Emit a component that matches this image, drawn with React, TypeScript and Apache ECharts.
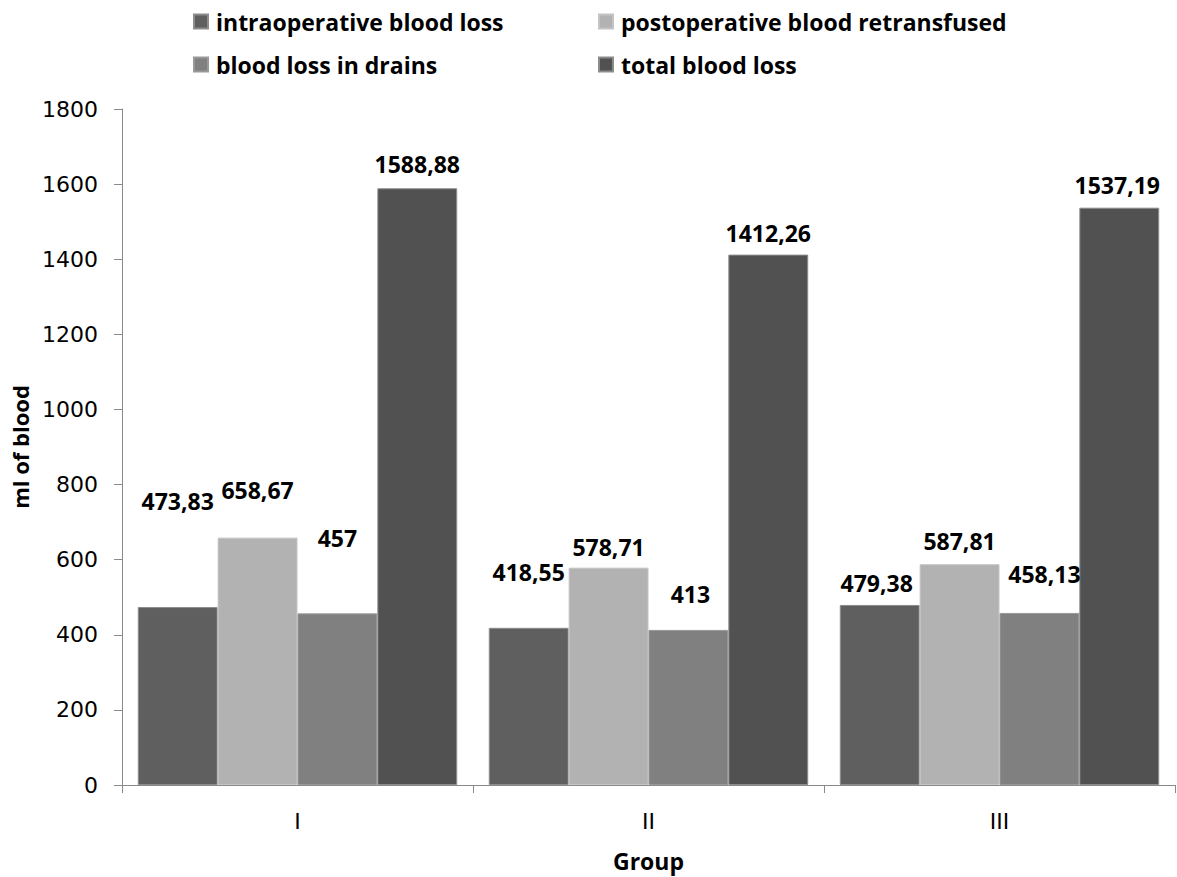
import React, { useEffect, useRef } from "react";
import * as echarts from "echarts";

const categories = ["I", "II", "III"];
const seriesNames = [
  "intraoperative blood loss",
  "postoperative blood retransfused",
  "blood loss in drains",
  "total blood loss",
];
const intraoperative = [473.83, 418.55, 479.38];
const postoperative = [658.67, 578.71, 587.81];
const drains = [457, 413, 458.13];
const total = [1588.88, 1412.26, 1537.19];
const yTicks = { min: 0, max: 1800, interval: 200 };

const seriesValues = [intraoperative, postoperative, drains, total];
const colors = ["#5f5f5f", "#b2b2b2", "#808080", "#515151"];
const borders = ["#8c8c8c", "#c4c4c4", "#999999", "#8c8c8c"];
// manual label offsets [dx, dy] per series per category (as in the source figure)
const labelOffsets = [
  [[0, -90], [0, -39], [-3, -5]],
  [[0, -31], [0, -4], [0, -7]],
  [[0, -59], [2, -19], [5, -22]],
  [[0, -8], [0, -5], [-2, -6]],
];

const fmt = (v: number) => String(v).replace(".", ",");

export default function App() {
  const ref = useRef<HTMLDivElement>(null);
  useEffect(() => {
    document.body.style.margin = "0";
    if (!ref.current) return;
    const chart = echarts.init(ref.current, null, { renderer: "svg" });
    const labelFont = {
      fontFamily: "Open Sans",
      fontWeight: "bold" as const,
      fontSize: 23,
      color: "#000",
    };
    const legendBase = {
      orient: "vertical",
      top: 10,
      padding: 0,
      itemWidth: 14,
      itemHeight: 14,
      itemGap: 20,
      icon: "rect",
      textStyle: { ...labelFont, padding: [0, 0, 0, 3] },
    };
    chart.setOption({
      animation: false,
      backgroundColor: "#fff",
      legend: [
        { ...legendBase, left: 193, data: [seriesNames[0], seriesNames[2]] },
        { ...legendBase, left: 598, data: [seriesNames[1], seriesNames[3]] },
      ],
      grid: { left: 122, right: 2, top: 109, bottom: 92, containLabel: false },
      xAxis: {
        type: "category",
        data: categories,
        name: "Group",
        nameLocation: "middle",
        nameGap: 64,
        nameTextStyle: { ...labelFont },
        axisLine: { lineStyle: { color: "#8a8a8a", width: 1 } },
        axisTick: { show: true, length: 8, lineStyle: { color: "#8a8a8a" } },
        axisLabel: {
          fontFamily: "DejaVu Sans",
          fontSize: 22,
          color: "#000",
          margin: 25,
        },
      },
      yAxis: {
        type: "value",
        min: yTicks.min,
        max: yTicks.max,
        interval: yTicks.interval,
        name: "ml of blood",
        nameLocation: "middle",
        nameGap: 88,
        nameRotate: 90,
        nameTextStyle: { ...labelFont, fontSize: 22 },
        splitLine: { show: false },
        axisLine: { show: true, lineStyle: { color: "#8a8a8a", width: 1 } },
        axisTick: { show: true, length: 8, lineStyle: { color: "#8a8a8a" } },
        axisLabel: {
          fontFamily: "DejaVu Sans",
          fontSize: 22,
          color: "#000",
          margin: 24,
          formatter: (v: number) => String(v),
        },
      },
      series: seriesNames.map((name, si) => ({
        name,
        type: "bar",
        barGap: "0%",
        barCategoryGap: "9%",
        itemStyle: { color: colors[si], borderColor: borders[si], borderWidth: 1 },
        data: seriesValues[si].map((v, ci) => ({
          value: v,
          label: {
            show: true,
            position: "top",
            distance: 5,
            offset: labelOffsets[si][ci],
            formatter: fmt(v),
            ...labelFont,
          },
        })),
      })),
    });
    return () => chart.dispose();
  }, []);
  return <div ref={ref} style={{ width: 1177, height: 877 }} />;
}
